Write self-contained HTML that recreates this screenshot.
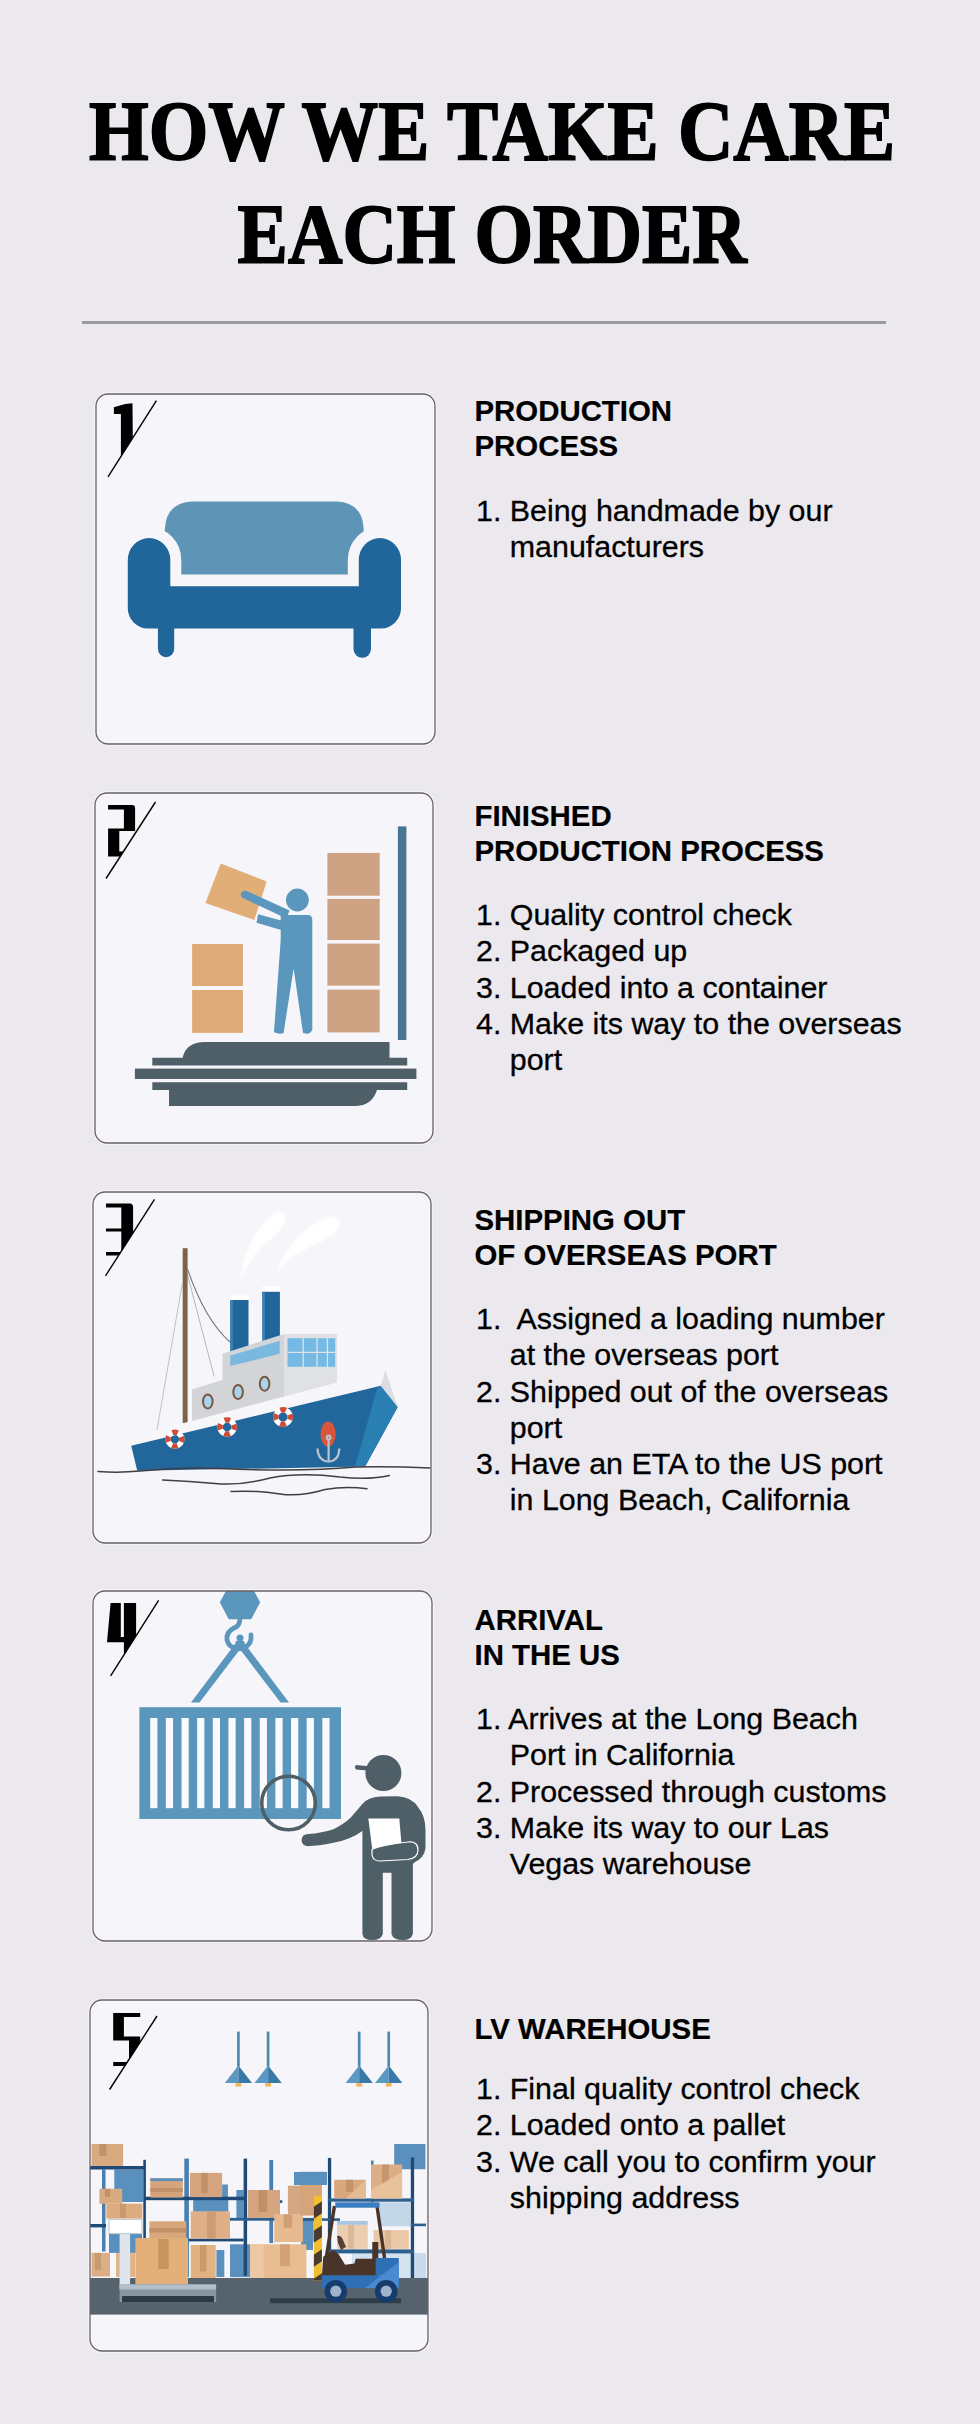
<!DOCTYPE html>
<html><head><meta charset="utf-8">
<style>
html,body{margin:0;padding:0;}
body{width:980px;height:2424px;position:relative;overflow:hidden;background:#ebe9ee;font-family:"Liberation Sans",sans-serif;color:#000;}
.title{position:absolute;left:2px;width:980px;text-align:center;font-family:"Liberation Serif",serif;font-weight:bold;font-size:84.5px;line-height:103px;white-space:nowrap;-webkit-text-stroke:1.8px #000;}
.title span{display:inline-block;transform-origin:50% 50%;}
.hr{position:absolute;left:82px;top:321.2px;width:804px;height:2.4px;background:#9a999d;}
.pnl{position:absolute;}
.h{position:absolute;left:474.5px;-webkit-text-stroke:0.2px #000;font-weight:bold;font-size:29.4px;line-height:35px;white-space:pre;}
.b{position:absolute;left:476px;-webkit-text-stroke:0.3px #000;font-size:30.4px;line-height:36.3px;white-space:pre;}
.b div{padding-left:33.8px;text-indent:-33.8px;}

</style></head><body>
<div class="title" style="top:80px"><span style="transform:scaleX(0.9076)">HOW WE TAKE CARE</span></div>
<div class="title" style="top:183px"><span style="transform:scaleX(0.8927)">EACH ORDER</span></div>
<div class="hr"></div>

<div class="h" style="top:393px">PRODUCTION
PROCESS</div>
<div class="b" style="top:492px"><div>1. Being handmade by our<br>manufacturers</div></div>

<div class="h" style="top:798px">FINISHED
PRODUCTION PROCESS</div>
<div class="b" style="top:896px"><div>1. Quality control check</div><div>2. Packaged up</div><div>3. Loaded into a container</div><div>4. Make its way to the overseas<br>port</div></div>

<div class="h" style="top:1202px">SHIPPING OUT
OF OVERSEAS PORT</div>
<div class="b" style="top:1300px"><div>1.  Assigned a loading number<br>at the overseas port</div><div>2. Shipped out of the overseas<br>port</div><div>3. Have an ETA to the US port<br>in Long Beach, California</div></div>

<div class="h" style="top:1602px">ARRIVAL
IN THE US</div>
<div class="b" style="top:1700px"><div>1. Arrives at the Long Beach<br>Port in California</div><div>2. Processed through customs</div><div>3. Make its way to our Las<br>Vegas warehouse</div></div>

<div class="h" style="top:2011px">LV WAREHOUSE</div>
<div class="b" style="top:2070px"><div>1. Final quality control check</div><div>2. Loaded onto a pallet</div><div>3. We call you to confirm your<br>shipping address</div></div>

<svg class="pnl" style="left:93px;top:391px" width="345" height="356" viewBox="93 391 345 356">
<defs><clipPath id="c1"><rect x="96" y="394" width="339" height="350" rx="12"/></clipPath></defs>
<rect x="96" y="394" width="339" height="350" rx="12" fill="#f6f5f9" stroke="#f7f6fa" stroke-width="3.5"/>
<g clip-path="url(#c1)">

<path d="M164.9,574.6 L164.9,529 Q166,503 192,501.4 L337,501.4 Q362.6,503 363.7,529 L363.7,574.6 Z" fill="#5e95b7"/>
<path d="M127.8,560 A21.25,22 0 0 1 170.3,560 L170.3,586.3 L358.8,586.3 L358.8,560 A21.1,22 0 0 1 401,560 L401,608.4 A20,20 0 0 1 381,628.4 L147.8,628.4 A20,20 0 0 1 127.8,608.4 Z" fill="none" stroke="#f6f5f9" stroke-width="22" stroke-linejoin="round"/>
<path d="M127.8,560 A21.25,22 0 0 1 170.3,560 L170.3,586.3 L358.8,586.3 L358.8,560 A21.1,22 0 0 1 401,560 L401,608.4 A20,20 0 0 1 381,628.4 L147.8,628.4 A20,20 0 0 1 127.8,608.4 Z" fill="#21669a"/>
<path d="M157.9,620 L174.2,620 L174.2,649 A8.15,8.15 0 0 1 157.9,649 Z M353.5,620 L371,620 L371,649 A8.75,8.75 0 0 1 353.5,649 Z" fill="#21669a"/>
<clipPath id="n1"><path d="M-116.2,515.05 L83.8,515.05 L180.60000000000002,362.45000000000005 L-19.399999999999977,162.45000000000005 L-116.2,162.45000000000005 Z"/></clipPath><path clip-path="url(#n1)" d="M113.9,407.3 L125.2,404 L132.5,403.3 L132.8,440 L132.8,470 L120.9,470 L120.9,413.9 L113.9,413.9 Z" fill="#000"/><line x1="108" y1="476.9" x2="156.4" y2="400.6" stroke="#000" stroke-width="1.4"/>
</g>
<rect x="96" y="394" width="339" height="350" rx="12" fill="none" stroke="#6a6066" stroke-width="1.3"/>
</svg>
<svg class="pnl" style="left:92px;top:790px" width="344" height="356" viewBox="92 790 344 356">
<defs><clipPath id="c2"><rect x="95" y="793" width="338" height="350" rx="12"/></clipPath></defs>
<rect x="95" y="793" width="338" height="350" rx="12" fill="#f6f5f9" stroke="#f7f6fa" stroke-width="3.5"/>
<g clip-path="url(#c2)">

<rect x="192.1" y="944" width="50.8" height="42" fill="#deab78"/>
<rect x="192.1" y="990" width="50.8" height="42.9" fill="#deab78"/>
<path d="M220.7,863.6 L266.7,881.4 L254.3,920 L205.4,902.9 Z" fill="#e2ae77"/>
<rect x="327.4" y="852.9" width="52.3" height="42.8" fill="#cea383"/>
<rect x="327.4" y="898.9" width="52.3" height="41.1" fill="#cea383"/>
<rect x="327.4" y="943.6" width="52.3" height="42.1" fill="#cea383"/>
<rect x="327.4" y="989.6" width="52.3" height="42.8" fill="#cea383"/>
<rect x="397.9" y="826.4" width="8.5" height="213.6" fill="#497594"/>
<g fill="#5b96bd">
<circle cx="297.4" cy="900" r="11.4"/>
<path d="M245.2,890.4 L289.5,910.4 L286.5,918.5 L241.8,897.6 Q238.5,892 245.2,890.4 Z"/>
<path d="M258.1,914.3 L285,921.5 L283,930.5 L256.5,922.8 Z"/>
<path d="M280.7,915 L309,915 Q312.3,916 312.3,920 L312.3,1030 Q310,1034.5 305.5,1033.5 L303,1033 L293.6,968.6 L283.6,1033 Q279,1035 274,1032 L280.7,940 Z"/>
</g>
<g fill="#4f5f68">
<path d="M182.6,1057.8 Q186,1042 205,1042 L389.5,1042 L389.5,1057.8 L407.2,1057.8 L407.2,1065.4 L152.3,1065.4 L152.3,1057.8 Z"/>
<rect x="134.9" y="1068.6" width="281.5" height="10.4"/>
<path d="M152.3,1082.2 L407.2,1082.2 L407.2,1090.1 L377,1090.1 Q372,1106 355,1106 L169,1106 L169,1090.1 L152.3,1090.1 Z"/>
</g>
<clipPath id="n2"><path d="M-118.75,916.75 L81.25,916.75 L180.25,763.75 L-19.75,563.75 L-118.75,563.75 Z"/></clipPath><path clip-path="url(#n2)" d="M108.1,805 L132,805 Q135.1,805 135.1,808 L135.1,831 L119.3,831 L119.3,856.5 L108.1,856.5 L108.1,828.5 L123.9,828.5 L123.9,809.6 L108.1,809.6 Z M119.3,851.4 L135,851.4 L135,856.5 L119.3,856.5 Z" fill="#000"/><line x1="106" y1="878.5" x2="155.5" y2="802" stroke="#000" stroke-width="1.4"/>
</g>
<rect x="95" y="793" width="338" height="350" rx="12" fill="none" stroke="#6a6066" stroke-width="1.3"/>
</svg>
<svg class="pnl" style="left:90px;top:1189px" width="344" height="357" viewBox="90 1189 344 357">
<defs><clipPath id="c3"><rect x="93" y="1192" width="338" height="351" rx="12"/></clipPath></defs>
<rect x="93" y="1192" width="338" height="351" rx="12" fill="#f6f5f9" stroke="#f7f6fa" stroke-width="3.5"/>
<g clip-path="url(#c3)">

<filter id="blur1" x="-20%" y="-20%" width="140%" height="140%"><feGaussianBlur stdDeviation="0.8"/></filter>
<g fill="none" stroke-linecap="round">
<path d="M240.9,1279.6 C242,1260 250,1238 265,1222 C272,1213 282,1209 285,1214 C287,1222 280,1232 270,1240 C258,1250 248,1262 240.9,1279.6 Z" fill="#ffffff" stroke="none" filter="url(#blur1)"/>
<path d="M276.4,1272.2 C284,1250 300,1232 318,1222 C328,1216 338,1215 340,1222 C341,1230 330,1238 312,1246 C296,1254 286,1260 276.4,1272.2 Z" fill="#ffffff" stroke="none" filter="url(#blur1)"/>
<path d="M187.6,1269.4 Q205,1320 230,1342" stroke="#7a7472" stroke-width="1.1"/>
<path d="M187.6,1275 L214,1376" stroke="#a9a6a8" stroke-width="0.8"/>
<path d="M182,1285 L157,1430" stroke="#b5b3b6" stroke-width="0.8"/>
</g>
<rect x="182.7" y="1248.2" width="4.9" height="174.7" fill="#7d6148"/>
<rect x="230.3" y="1295.5" width="18.2" height="5" fill="#ffffff"/>
<rect x="230.3" y="1300" width="18.2" height="52" fill="#21669b"/>
<rect x="230.3" y="1300" width="2.5" height="52" fill="#3a82b8"/>
<rect x="262.4" y="1286" width="17.5" height="5.8" fill="#ffffff"/>
<rect x="262.4" y="1291.8" width="17.5" height="50" fill="#21669b"/>
<rect x="262.4" y="1291.8" width="2.5" height="50" fill="#3a82b8"/>
<path d="M192.1,1389.4 L222.5,1379.8 L222.5,1353.8 L284.1,1333.9 L284.1,1400 L192.1,1425 Z" fill="#d3d4d8"/>
<path d="M284.1,1333.9 L337,1333.9 L337,1385 L284.1,1400 Z" fill="#e0e1e5"/>
<path d="M230.3,1355.6 L279.7,1340.8 L279.7,1353.8 L230.3,1366 Z" fill="#7ab8e0"/>
<rect x="287.5" y="1338.2" width="47.7" height="28.6" fill="#74bae4"/>
<g stroke="#e0e1e5" stroke-width="1.3"><line x1="287.5" y1="1352.3" x2="335.2" y2="1352.3"/><line x1="303.2" y1="1338" x2="303.2" y2="1367"/><line x1="317" y1="1338" x2="317" y2="1367"/><line x1="327.4" y1="1338" x2="327.4" y2="1367"/></g>
<g fill="#a8d4ee" stroke="#7a5840" stroke-width="2"><ellipse cx="207.8" cy="1401.5" rx="4.8" ry="7"/><ellipse cx="238.1" cy="1392" rx="4.8" ry="7"/><ellipse cx="264.6" cy="1383.8" rx="4.8" ry="7"/></g>
<path d="M131.2,1437 L383.4,1370.3 L388,1378 L131.2,1446 Z" fill="#f7f7fa"/>
<path d="M131.2,1445.8 L380.8,1385.8 L397.7,1407.1 L365.1,1466.6 L137.3,1470.8 Z" fill="#22679c"/>
<path d="M377,1389 L380.8,1385.8 L397.7,1407.1 L365.1,1466.6 L355,1466.3 Z" fill="#2a7fb3"/>
<path d="M380.8,1385.8 L385.3,1370.1 L397.7,1407.1 Z" fill="#dcdde2"/>
<g stroke-width="5.4" fill="none"><circle cx="174.9" cy="1439.2" r="6.9" stroke="#ffffff"/><circle cx="174.9" cy="1439.2" r="6.9" stroke="#cf4b36" stroke-dasharray="5.42 5.42" stroke-dashoffset="2.71"/><circle cx="227.1" cy="1427" r="7.1" stroke="#ffffff"/><circle cx="227.1" cy="1427" r="7.1" stroke="#cf4b36" stroke-dasharray="5.58 5.58" stroke-dashoffset="2.79"/><circle cx="283" cy="1417" r="7.3" stroke="#ffffff"/><circle cx="283" cy="1417" r="7.3" stroke="#cf4b36" stroke-dasharray="5.73 5.73" stroke-dashoffset="2.87"/></g>
<ellipse cx="328.1" cy="1434.1" rx="7.6" ry="12.5" fill="#d9553b"/>
<g fill="none" stroke="#b9c3cc" stroke-width="2.2"><circle cx="328.6" cy="1437.5" r="1.8"/><line x1="328.6" y1="1439.5" x2="328.6" y2="1462"/><path d="M317.5,1448.5 Q318,1461 328.6,1461.5 Q339,1461 339.3,1448.5"/></g>
<g fill="none" stroke="#3f3f44" stroke-width="1.5" stroke-linecap="round">
<path d="M98,1471.5 Q120,1473 140,1471 Q180,1467 220,1468.5 Q300,1472 356,1467 Q390,1466 430,1468"/>
<path d="M162.7,1480 Q190,1481 215,1483.5 Q240,1486 270,1478 Q300,1472 340,1477 Q370,1480 389.3,1475.4"/>
<path d="M231,1491.6 Q255,1490 280,1494 Q300,1497 325,1489.5 Q345,1486 367,1488.7"/>
</g>
<clipPath id="n3"><path d="M-119.0,1314.15 L81.0,1314.15 L179.0,1161.15 L-21.0,961.1500000000001 L-119.0,961.1500000000001 Z"/></clipPath><path clip-path="url(#n3)" d="M106,1203.5 L130.5,1203.5 Q133.1,1204 133.1,1207 L133.1,1270 L121.3,1270 L121.3,1231.5 L106,1231.5 L106,1228.5 L121.3,1228.5 L121.3,1207.6 L106,1207.6 Z M106,1252 L125,1252 L125,1255.5 L106,1255.5 Z" fill="#000"/><line x1="105.5" y1="1275.9" x2="154.5" y2="1199.4" stroke="#000" stroke-width="1.4"/>
</g>
<rect x="93" y="1192" width="338" height="351" rx="12" fill="none" stroke="#6a6066" stroke-width="1.3"/>
</svg>
<svg class="pnl" style="left:90px;top:1588px" width="345" height="356" viewBox="90 1588 345 356">
<defs><clipPath id="c4"><rect x="93" y="1591" width="339" height="350" rx="12"/></clipPath></defs>
<rect x="93" y="1591" width="339" height="350" rx="12" fill="#f6f5f9" stroke="#f7f6fa" stroke-width="3.5"/>
<g clip-path="url(#c4)">

<path d="M219.8,1602.3 L226.5,1590 L253.5,1590 L260.2,1602.3 L251.2,1619.2 L228.7,1619.2 Z" fill="#5b97bd"/>
<g fill="none" stroke="#5b97bd" stroke-width="4.8" stroke-linecap="round">
<path d="M240,1618 Q240,1626 234,1628 Q226,1632 227,1640 Q229,1648 237,1648"/>
<path d="M251,1635 Q252,1644 244,1648"/>
</g>
<circle cx="240" cy="1638" r="3.5" fill="#5b97bd"/>
<path d="M235,1644 L241,1648 L199.5,1702.5 L191,1702.5 Z" fill="#5b97bd"/>
<path d="M245,1644 L239,1648 L280.5,1702.5 L289,1702.5 Z" fill="#5b97bd"/>
<path d="M236,1641 L244,1641 L247,1651 L233,1651 Z" fill="#5b97bd"/>
<rect x="139.4" y="1707.2" width="201.6" height="111.8" fill="#5b97bd"/>
<g fill="#fafafc">
<rect x="150.20" y="1718" width="7.2" height="90.2"/><rect x="165.85" y="1718" width="7.2" height="90.2"/><rect x="181.50" y="1718" width="7.2" height="90.2"/><rect x="197.15" y="1718" width="7.2" height="90.2"/><rect x="212.80" y="1718" width="7.2" height="90.2"/><rect x="228.45" y="1718" width="7.2" height="90.2"/><rect x="244.10" y="1718" width="7.2" height="90.2"/><rect x="259.75" y="1718" width="7.2" height="90.2"/><rect x="275.40" y="1718" width="7.2" height="90.2"/><rect x="291.05" y="1718" width="7.2" height="90.2"/><rect x="306.70" y="1718" width="7.2" height="90.2"/><rect x="322.35" y="1718" width="7.2" height="90.2"/>
</g>
<circle cx="288.5" cy="1803" r="26.8" fill="none" stroke="#4f5f68" stroke-width="3.6"/>
<g fill="#4f5f68">
<circle cx="383.4" cy="1773" r="18"/>
<path d="M356,1765 L376,1767 L378,1771.5 L356,1769.5 Q354,1767 356,1765 Z"/>
<path d="M362.4,1804 Q368,1797 380,1796.5 L397.3,1796.2 Q412,1797 418,1807 Q425.5,1816 425.5,1830 L425.5,1848.6 Q424,1858 415,1862 L412.9,1864 L412.9,1934 Q411,1940 403,1940 Q393,1940 391.5,1934 L391.5,1872.8 L382.8,1872.8 L382.8,1934 Q381,1940 372.5,1940 Q363,1940 362.4,1934 L362.4,1831 Q350,1840 333.4,1842.8 Q318,1846 308.2,1846.2 Q302,1846 301.5,1840 Q302,1834 308.2,1834 Q322,1833 333.4,1829.2 Q344,1824 350.8,1817.5 Z"/>
</g>
<path d="M368.3,1818.5 L399.3,1818.5 L402,1850 L373,1855 Z" fill="#ffffff"/>
<path d="M372,1849.5 Q382,1845 408,1842 Q418,1841 418,1850 Q418,1858 408,1859.5 L380,1861 Q373,1861 372,1855 Z" fill="#4f5f68" stroke="#ffffff" stroke-width="1.2"/>
<clipPath id="n4"><path d="M-113.4,1713.65 L86.6,1713.65 L182.6,1562.65 L-17.400000000000006,1362.65 L-113.4,1362.65 Z"/></clipPath><path clip-path="url(#n4)" d="M110.6,1603 L120.8,1603 L120.8,1637 L123.9,1637 L123.9,1603 L136.1,1603 L136.1,1680 L123.9,1680 L123.9,1642.2 L107,1642.2 Z" fill="#000"/><line x1="110.6" y1="1675.9" x2="158.6" y2="1600.4" stroke="#000" stroke-width="1.4"/>
</g>
<rect x="93" y="1591" width="339" height="350" rx="12" fill="none" stroke="#6a6066" stroke-width="1.3"/>
</svg>
<svg class="pnl" style="left:87px;top:1997px" width="344" height="357" viewBox="87 1997 344 357">
<defs><clipPath id="c5"><rect x="90" y="2000" width="338" height="351" rx="12"/></clipPath></defs>
<rect x="90" y="2000" width="338" height="351" rx="12" fill="#f6f5f9" stroke="#f7f6fa" stroke-width="3.5"/>
<g clip-path="url(#c5)">

<g>
<rect x="394.2" y="2144" width="31.2" height="25.2" fill="#5a90bd"/>
<rect x="379.6" y="2202.3" width="30.5" height="24" fill="#c3d7e9"/>
<rect x="395" y="2253" width="31" height="25" fill="#c9dbeb"/>
<rect x="294" y="2172" width="33" height="13" fill="#5a90bd"/>
<rect x="300" y="2171.8" width="26" height="13.2" fill="#5a90bd"/>
<rect x="236.4" y="2190" width="7.2" height="28.6" fill="#5a90bd"/>
<rect x="222.1" y="2184.5" width="5.8" height="12.6" fill="#5a90bd"/>
<rect x="193.6" y="2200" width="34.3" height="11.4" fill="#5a90bd"/>
<rect x="193.3" y="2200.2" width="35" height="11.4" fill="#5a90bd"/>
<rect x="114.3" y="2169.5" width="29" height="32.5" fill="#5a90bd"/>
<rect x="109" y="2233.5" width="33" height="19.4" fill="#5a90bd"/>
<rect x="230" y="2244.3" width="20" height="32.8" fill="#5a90bd"/>
<rect x="216.4" y="2250" width="7.9" height="27" fill="#5a90bd"/>
<rect x="303.6" y="2218.6" width="10" height="22.8" fill="#5a90bd"/>
<rect x="301" y="2220" width="12" height="30" fill="#5a90bd"/>
<rect x="337.1" y="2220.9" width="30.6" height="4" fill="#a9c7e0"/>
<rect x="337.1" y="2224.9" width="30.6" height="23.9" fill="#ebcdb0"/>
<rect x="373.6" y="2230.2" width="35.2" height="18.6" fill="#eac8a5"/>
<rect x="352" y="2253.4" width="58" height="25" fill="#d3e2ef"/>
</g>
<g fill="#4a80b0">
<rect x="102" y="2169.5" width="3.5" height="82"/>
<rect x="184.3" y="2158.6" width="4.6" height="118.4"/>
<rect x="269.3" y="2160" width="3.8" height="83"/>
<rect x="371" y="2160.5" width="2.6" height="42"/>
</g>
<g fill="#1f4a75">
<rect x="143.3" y="2159.8" width="2.6" height="78.2"/>
<rect x="243.6" y="2158.6" width="3.5" height="117.1"/>
<rect x="327.9" y="2157.9" width="3.3" height="120"/>
<rect x="410.8" y="2157.5" width="3.3" height="120.5"/>
<rect x="89.8" y="2166" width="56.1" height="3.5"/>
<rect x="89.8" y="2224" width="16.2" height="3.4"/>
<rect x="145" y="2196.7" width="99" height="3.5"/>
<rect x="180" y="2197.1" width="63.6" height="2.9"/>
<rect x="188.6" y="2238.6" width="55" height="2.8"/>
</g>
<g fill="#2d5f8f">
<rect x="230" y="2217.9" width="84.3" height="2.8"/>
<rect x="327.9" y="2198.4" width="86.2" height="3.3"/>
<rect x="300" y="2218.3" width="40" height="2.6"/>
<rect x="327.9" y="2249.4" width="86.2" height="4"/>
<rect x="410.8" y="2223.6" width="15.2" height="2.6"/>
<rect x="274.3" y="2200.2" width="8" height="2.8"/>
</g>
<g>
<rect x="91.5" y="2144" width="31.6" height="22" fill="#d8aa80"/><rect x="99.4" y="2144" width="7" height="12" fill="#c2916a"/>
<rect x="99.4" y="2188.8" width="22.8" height="14.9" fill="#d8aa80"/><rect x="105" y="2188.8" width="5" height="8" fill="#c2916a"/>
<rect x="106.4" y="2203.7" width="36" height="14.9" fill="#dcab80"/><rect x="120" y="2203.7" width="6" height="14" fill="#c89a70"/>
<rect x="91.5" y="2252.9" width="18.5" height="23.6" fill="#dcae85"/><rect x="95" y="2252.9" width="6" height="17" fill="#c89a70"/>
<rect x="116" y="2252.9" width="19" height="24" fill="#e0b48b"/>
<rect x="150.3" y="2178.3" width="32.5" height="19.3" fill="#d5a47c"/><rect x="150.3" y="2178.3" width="32.5" height="2.8" fill="#5a90bd"/><rect x="150.3" y="2188" width="32.5" height="4" fill="#c2916a"/>
<rect x="190" y="2172.9" width="32.1" height="24.2" fill="#d4a57e"/><rect x="201.4" y="2172.9" width="6.4" height="20" fill="#c0906a"/>
<rect x="190.7" y="2211.4" width="39.3" height="27.2" fill="#dfb088"/><rect x="207.1" y="2211.4" width="8.6" height="27.2" fill="#cc9c72"/>
<rect x="190.7" y="2245" width="25" height="38.6" fill="#e2b283"/><rect x="200" y="2245" width="6.4" height="26.4" fill="#c99a6c"/>
<rect x="247.9" y="2190" width="32.1" height="27.9" fill="#d4a57e"/><rect x="258.6" y="2190" width="8.6" height="22" fill="#c0906a"/>
<rect x="274.3" y="2214.3" width="28.6" height="27.8" fill="#e6b98e"/><rect x="283.6" y="2214.3" width="8.6" height="13.6" fill="#cf9f75"/>
<rect x="287.9" y="2185.7" width="32.1" height="28.6" fill="#d4a883"/><rect x="300.7" y="2185.7" width="9.3" height="28.6" fill="#c79a72"/>
<rect x="300" y="2185" width="21.9" height="30.6" fill="#d6a47b"/>
<rect x="250" y="2244.3" width="56.4" height="38.6" fill="#e8bd92"/><rect x="250" y="2244.3" width="13.6" height="38.6" fill="#ecc9a4"/><rect x="280" y="2244.3" width="10" height="22" fill="#d3a275"/>
<rect x="334.2" y="2179.8" width="31.5" height="18.6" fill="#d8a77c"/><rect x="346" y="2179.8" width="7" height="12" fill="#c49268"/>
<path d="M365.7,2179.8 L365.7,2198.4 L346,2198.4 Z" fill="#e4bc93"/>
<rect x="371" y="2164.5" width="31.1" height="33.9" fill="#dcae85"/><rect x="382" y="2164.5" width="7" height="22" fill="#c6966d"/>
<path d="M402.1,2172 L402.1,2198.4 L371,2198.4 L371,2190 Z" fill="#e8c29b"/>
<rect x="348" y="2224.9" width="6" height="23.9" fill="#dcb898"/>
<rect x="385" y="2230.2" width="6" height="18.6" fill="#dcb594"/>
</g>
<rect x="89" y="2278" width="340" height="36.6" fill="#56636c"/>
<g>
<rect x="119.6" y="2233.5" width="10.5" height="55" fill="#dfe5ec"/>
<rect x="109" y="2219.5" width="33" height="14" fill="#ffffff" stroke="#c5ccd3" stroke-width="1.2"/>
<rect x="149.4" y="2221.3" width="36.9" height="16.7" fill="#d9a77c"/><rect x="149.4" y="2228" width="36.9" height="4.5" fill="#c3906a"/>
<rect x="135.4" y="2238" width="52.6" height="46.4" fill="#e4b07a"/><rect x="158.2" y="2239" width="10.5" height="30" fill="#c9955f"/>
<rect x="119.6" y="2284.4" width="96.5" height="17.6" fill="#8796a3"/>
<rect x="119.6" y="2284.4" width="96.5" height="5" fill="#b3bfca"/>
<rect x="122" y="2296" width="92" height="6" fill="#2b3a46"/>
</g>
<rect x="270" y="2298.2" width="131" height="5" fill="#2f3d48"/>
<g>
<rect x="313.9" y="2195.7" width="8" height="84.9" fill="#f0c030"/>
<clipPath id="stripe"><rect x="313.9" y="2195.7" width="8" height="84.9"/></clipPath>
<g clip-path="url(#stripe)" fill="#4a3a30">
<path d="M312,2208.0 L324,2200.0 L324,2212.0 L312,2220.0 Z"/><path d="M312,2232.0 L324,2224.0 L324,2236.0 L312,2244.0 Z"/><path d="M312,2256.0 L324,2248.0 L324,2260.0 L312,2268.0 Z"/><path d="M312,2280.0 L324,2272.0 L324,2284.0 L312,2292.0 Z"/>
</g>
<g stroke="#4a3328" stroke-width="3.4" stroke-linecap="butt"><line x1="334.5" y1="2206" x2="326.5" y2="2256"/><line x1="377" y1="2206" x2="384.5" y2="2258"/></g>
<rect x="335.2" y="2202.3" width="44.4" height="5.4" fill="#3b7dc0"/>
<path d="M321.9,2276 L323.2,2256.7 L333,2250 L338.5,2254.1 L345.1,2264.7 L354.4,2263.4 L355.7,2258.7 L372.3,2258.7 L372.3,2242.1 L378.3,2242.1 L378.3,2276 Z" fill="#4a3328"/>
<path d="M337,2236 Q341,2235 343,2240 L346,2247 L341,2250 L338,2243 Z" fill="#5a4034"/>
<rect x="321.9" y="2275.3" width="76.9" height="12.6" fill="#2e6fb5"/>
<rect x="375.6" y="2258" width="23.2" height="17.3" fill="#2e6fb5"/>
<path d="M398.8,2262 L398.8,2287.9 L365,2287.9 Z" fill="#4a8ad0"/>
<circle cx="335.8" cy="2291.2" r="11.3" fill="#163c6e"/><circle cx="335.8" cy="2291.2" r="5.6" fill="#9fb4cc"/>
<circle cx="386.2" cy="2291.2" r="11.3" fill="#163c6e"/><circle cx="386.2" cy="2291.2" r="5.6" fill="#9fb4cc"/>
</g>
<g>
<rect x="237.05" y="2031.6" width="2.7" height="35" fill="#4e88b5"/><path d="M238.4,2065.6 L224.8,2083 L238.4,2083 Z" fill="#5b98c3"/><path d="M238.4,2065.6 L252.0,2083 L238.4,2083 Z" fill="#3a78a8"/><rect x="235.5" y="2083" width="5.8" height="3.6" fill="#f2b65a"/><rect x="266.75" y="2031.6" width="2.7" height="35" fill="#4e88b5"/><path d="M268.1,2065.6 L254.50000000000003,2083 L268.1,2083 Z" fill="#5b98c3"/><path d="M268.1,2065.6 L281.70000000000005,2083 L268.1,2083 Z" fill="#3a78a8"/><rect x="265.20000000000005" y="2083" width="5.8" height="3.6" fill="#f2b65a"/><rect x="357.84999999999997" y="2031.6" width="2.7" height="35" fill="#4e88b5"/><path d="M359.2,2065.6 L345.59999999999997,2083 L359.2,2083 Z" fill="#5b98c3"/><path d="M359.2,2065.6 L372.8,2083 L359.2,2083 Z" fill="#3a78a8"/><rect x="356.3" y="2083" width="5.8" height="3.6" fill="#f2b65a"/><rect x="387.34999999999997" y="2031.6" width="2.7" height="35" fill="#4e88b5"/><path d="M388.7,2065.6 L375.09999999999997,2083 L388.7,2083 Z" fill="#5b98c3"/><path d="M388.7,2065.6 L402.3,2083 L388.7,2083 Z" fill="#3a78a8"/><rect x="385.8" y="2083" width="5.8" height="3.6" fill="#f2b65a"/>
</g>
<clipPath id="n5"><path d="M-114.10000000000001,2126.25 L85.89999999999999,2126.25 L180.7,1979.25 L-19.30000000000001,1779.25 L-114.10000000000001,1779.25 Z"/></clipPath><path clip-path="url(#n5)" d="M113.2,2013 L140.2,2013 L140.2,2017 L123.9,2017 L123.9,2036.4 L140.2,2036.4 L140.2,2080 L129,2080 L129,2040.5 L113.2,2040.5 Z M113.2,2062 L130,2062 L130,2066 L113.2,2066 Z" fill="#000"/><line x1="109.6" y1="2089.5" x2="157" y2="2016" stroke="#000" stroke-width="1.4"/>
</g>
<rect x="90" y="2000" width="338" height="351" rx="12" fill="none" stroke="#6a6066" stroke-width="1.3"/>
</svg>
</body></html>
